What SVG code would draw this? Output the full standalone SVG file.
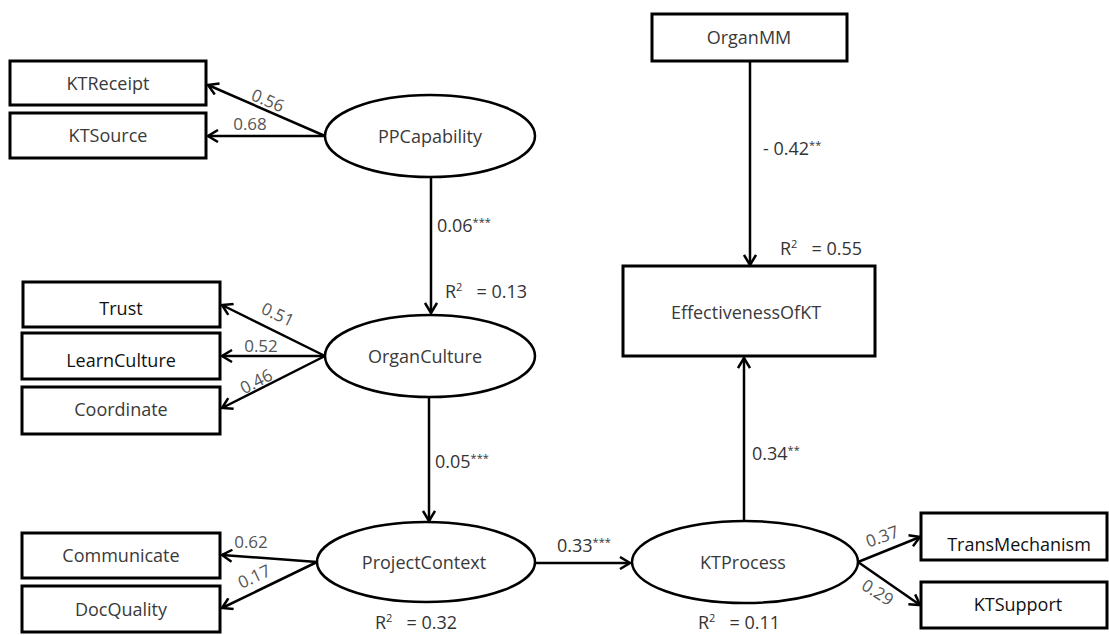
<svg xmlns="http://www.w3.org/2000/svg" width="1109" height="635" viewBox="0 0 1109 635">
  <style>
    .box { fill: #fff; stroke: #000; stroke-width: 3; }
    .ell { fill: #fff; stroke: #000; stroke-width: 2.5; }
    .lbl { font-family: "Open Sans", "Noto Sans", sans-serif; font-size: 18px; fill: #3a3a3a; text-anchor: middle; dominant-baseline: central; }
    .lbl2 { font-family: "Open Sans", "Noto Sans", sans-serif; font-size: 18px; fill: #111; text-anchor: middle; dominant-baseline: central; }
    .con { stroke: #000; stroke-width: 2.5; fill: none; marker-end: url(#arr); }
    .ld { font-family: "Open Sans", "Noto Sans", sans-serif; font-size: 17px; fill: #555; text-anchor: middle; dominant-baseline: central; }
    .coef { font-family: "Open Sans", "Noto Sans", sans-serif; font-size: 18px; fill: #333; white-space: pre; }
    .sup { font-size: 11px; }
  </style>
  <defs>
    <marker id="arr" markerUnits="userSpaceOnUse" markerWidth="14" markerHeight="14" refX="11" refY="7" orient="auto">
      <path d="M1,1 L11,7 L1,13" fill="none" stroke="#000" stroke-width="2.5"/>
    </marker>
  </defs>
  <rect width="1109" height="635" fill="#fff"/>

  <g id="connectors">
    <line class="con" x1="325" y1="136" x2="208" y2="85"/>
    <line class="con" x1="325" y1="136" x2="208" y2="136"/>
    <line class="con" x1="431" y1="177" x2="431" y2="313"/>
    <line class="con" x1="325" y1="356" x2="222" y2="305"/>
    <line class="con" x1="325" y1="356" x2="222" y2="356"/>
    <line class="con" x1="325" y1="356" x2="222" y2="408"/>
    <line class="con" x1="429" y1="397" x2="429" y2="521"/>
    <line class="con" x1="317" y1="562" x2="222" y2="555"/>
    <line class="con" x1="317" y1="562" x2="222" y2="608"/>
    <line class="con" x1="535" y1="563" x2="630" y2="563"/>
    <line class="con" x1="744" y1="521" x2="744" y2="358"/>
    <line class="con" x1="750" y1="62" x2="750" y2="265"/>
    <line class="con" x1="858" y1="562" x2="920" y2="537"/>
    <line class="con" x1="858" y1="562" x2="920" y2="605"/>

    <text class="ld" transform="translate(268,100) rotate(23)">0.56</text>
    <text class="ld" transform="translate(250,123)">0.68</text>
    <text class="ld" transform="translate(278,314) rotate(25)">0.51</text>
    <text class="ld" transform="translate(261,345)">0.52</text>
    <text class="ld" transform="translate(256,381) rotate(-27)">0.46</text>
    <text class="ld" transform="translate(251,541)">0.62</text>
    <text class="ld" transform="translate(254,576) rotate(-25)">0.17</text>
    <text class="ld" transform="translate(882,536) rotate(-20)">0.37</text>
    <text class="ld" transform="translate(878,592) rotate(32)">0.29</text>

    <text class="coef" x="437" y="232">0.06<tspan class="sup" dy="-6">***</tspan></text>
    <text class="coef" x="435" y="468">0.05<tspan class="sup" dy="-6">***</tspan></text>
    <text class="coef" x="557" y="552">0.33<tspan class="sup" dy="-6">***</tspan></text>
    <text class="coef" x="763" y="155">- 0.42<tspan class="sup" dy="-6">**</tspan></text>
    <text class="coef" x="752" y="460">0.34<tspan class="sup" dy="-6">**</tspan></text>

    <text class="coef" x="445" y="298">R<tspan class="sup" dy="-7">2</tspan><tspan dy="7">   = 0.13</tspan></text>
    <text class="coef" x="780" y="255">R<tspan class="sup" dy="-7">2</tspan><tspan dy="7">   = 0.55</tspan></text>
    <text class="coef" x="375" y="629">R<tspan class="sup" dy="-7">2</tspan><tspan dy="7">   = 0.32</tspan></text>
    <text class="coef" x="698" y="629">R<tspan class="sup" dy="-7">2</tspan><tspan dy="7">   = 0.11</tspan></text>
  </g>

  <g id="KTReceipt"><rect class="box" x="10" y="61" width="196" height="44"/><text class="lbl" x="108" y="83">KTReceipt</text></g>
  <g id="KTSource"><rect class="box" x="10" y="113" width="196" height="45"/><text class="lbl" x="108" y="135">KTSource</text></g>
  <g id="PPCapability"><ellipse class="ell" cx="430" cy="136" rx="105" ry="41"/><text class="lbl" x="430" y="136">PPCapability</text></g>

  <g id="Trust"><rect class="box" x="23" y="282" width="197" height="45"/><text class="lbl2" x="121" y="308">Trust</text></g>
  <g id="LearnCulture"><rect class="box" x="22" y="333" width="198" height="46"/><text class="lbl2" x="121" y="360">LearnCulture</text></g>
  <g id="Coordinate"><rect class="box" x="22" y="387" width="198" height="47"/><text class="lbl" x="121" y="409">Coordinate</text></g>
  <g id="OrganCulture"><ellipse class="ell" cx="430" cy="356" rx="105" ry="41"/><text class="lbl" x="425" y="356">OrganCulture</text></g>

  <g id="Communicate"><rect class="box" x="22" y="533" width="198" height="45"/><text class="lbl" x="121" y="555">Communicate</text></g>
  <g id="DocQuality"><rect class="box" x="22" y="586" width="198" height="46"/><text class="lbl" x="121" y="609">DocQuality</text></g>
  <g id="ProjectContext"><ellipse class="ell" cx="426" cy="562" rx="109" ry="40"/><text class="lbl" x="424" y="562">ProjectContext</text></g>

  <g id="OrganMM"><rect class="box" x="652" y="14" width="195" height="47"/><text class="lbl" x="749" y="37">OrganMM</text></g>
  <g id="EffectivenessOfKT"><rect class="box" x="623" y="266" width="252" height="90"/><text class="lbl" x="746" y="312">EffectivenessOfKT</text></g>
  <g id="KTProcess"><ellipse class="ell" cx="745" cy="562" rx="113" ry="41"/><text class="lbl" x="743" y="562">KTProcess</text></g>
  <g id="TransMechanism"><rect class="box" x="921" y="513" width="186" height="47"/><text class="lbl2" x="1019" y="544">TransMechanism</text></g>
  <g id="KTSupport"><rect class="box" x="921" y="582" width="186" height="46"/><text class="lbl2" x="1018" y="604">KTSupport</text></g>
</svg>
